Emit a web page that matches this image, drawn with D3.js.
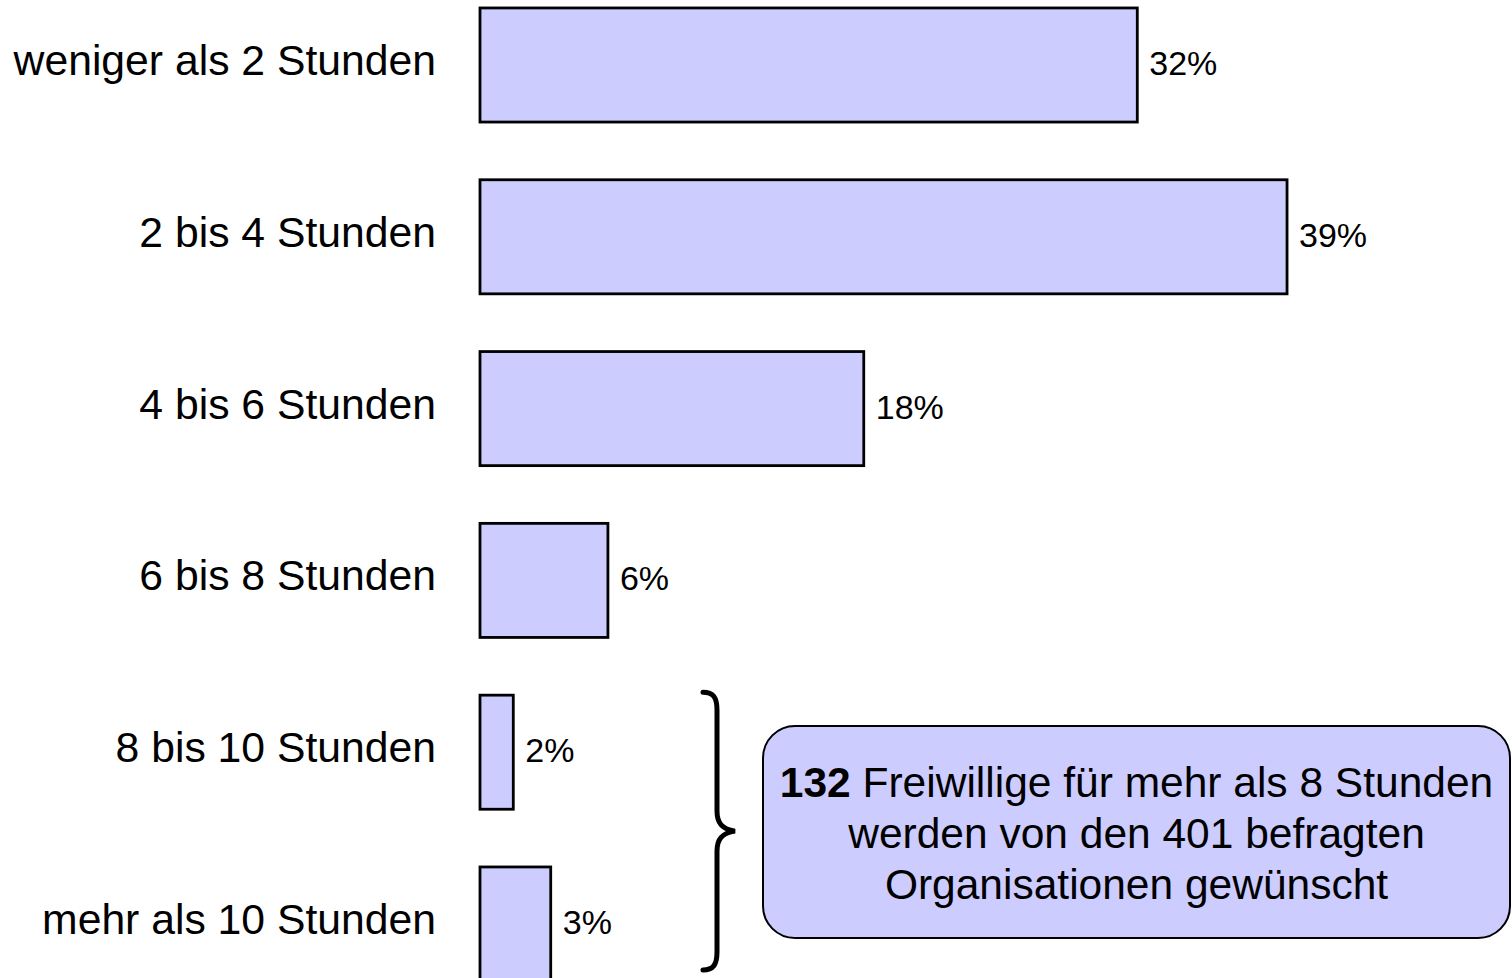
<!DOCTYPE html>
<html>
<head>
<meta charset="utf-8">
<script src="https://cdn.jsdelivr.net/npm/d3@7"></script>
<style>
  html, body { margin: 0; padding: 0; background: #fff; overflow: hidden; }
</style>
</head>
<body>
<script>
const categories = [
  "weniger als 2 Stunden",
  "2 bis 4 Stunden",
  "4 bis 6 Stunden",
  "6 bis 8 Stunden",
  "8 bis 10 Stunden",
  "mehr als 10 Stunden",
];
const shares = [31.6, 38.8, 18.45, 6.15, 1.6, 3.4];
const shareLabels = ["32%", "39%", "18%", "6%", "2%", "3%"];
const noteLines = [
  [{ text: "132", bold: true }, { text: " Freiwillige für mehr als 8 Stunden", bold: false }],
  [{ text: "werden von den 401 befragten", bold: false }],
  [{ text: "Organisationen gewünscht", bold: false }],
];

const width = 1512;
const height = 978;
const font = "'Liberation Sans', Arial, Helvetica, sans-serif";
const colors = {
  bar: "#ccccff",
  stroke: "#000000",
  text: "#000000",
  surface: "#ffffff",
};

const rows = categories.map((c, i) => ({ category: c, value: shares[i], label: shareLabels[i] }));

const svg = d3
  .select("body")
  .append("svg")
  .attr("width", width)
  .attr("height", height)
  .attr("viewBox", `0 0 ${width} ${height}`);

svg.append("rect").attr("width", width).attr("height", height).attr("fill", colors.surface);

const x = d3.scaleLinear().domain([0, 40]).range([480, 480 + 20.8 * 40]);

const y = d3
  .scaleBand()
  .domain(categories)
  .range([-20.9, 1009.9])
  .paddingInner(0.336)
  .paddingOuter(0.168);

// bars
svg
  .append("g")
  .selectAll("rect")
  .data(rows)
  .join("rect")
  .attr("x", x(0))
  .attr("y", (d) => y(d.category))
  .attr("width", (d) => x(d.value) - x(0))
  .attr("height", y.bandwidth())
  .attr("fill", colors.bar)
  .attr("stroke", colors.stroke)
  .attr("stroke-width", 2.8);

// category labels
svg
  .append("g")
  .selectAll("text")
  .data(rows)
  .join("text")
  .attr("x", 436)
  .attr("y", (d) => y(d.category) + y.bandwidth() / 2 + 10)
  .attr("text-anchor", "end")
  .attr("fill", colors.text)
  .attr("font-family", font)
  .attr("font-size", 42.7)
  .text((d) => d.category);

// value labels
svg
  .append("g")
  .selectAll("text")
  .data(rows)
  .join("text")
  .attr("x", (d) => x(d.value) + 12)
  .attr("y", (d) => y(d.category) + y.bandwidth() / 2 + 10)
  .attr("fill", colors.text)
  .attr("font-family", font)
  .attr("font-size", 34)
  .text((d) => d.label);

// brace over the last two rows
const braceTop = y(categories[4]) - 3;
const braceBottom = y(categories[5]) + y.bandwidth() - 11;
const braceMid = (braceTop + braceBottom) / 2;
const bx0 = 703, bx1 = 717, bx2 = 735;
svg
  .append("path")
  .attr(
    "d",
    `M ${bx0} ${braceTop} C ${bx0 + 10} ${braceTop}, ${bx1} ${braceTop + 5}, ${bx1} ${braceTop + 18}` +
      ` L ${bx1} ${braceMid - 20} C ${bx1} ${braceMid - 8}, ${bx1 + 5} ${braceMid - 2}, ${bx2} ${braceMid}` +
      ` C ${bx1 + 5} ${braceMid + 2}, ${bx1} ${braceMid + 8}, ${bx1} ${braceMid + 20}` +
      ` L ${bx1} ${braceBottom - 18} C ${bx1} ${braceBottom - 5}, ${bx0 + 10} ${braceBottom}, ${bx0} ${braceBottom}`
  )
  .attr("fill", "none")
  .attr("stroke", colors.stroke)
  .attr("stroke-width", 5)
  .attr("stroke-linecap", "round");

// note box
const box = { x: 763, y: 726, w: 747, h: 212 };
svg
  .append("rect")
  .attr("x", box.x)
  .attr("y", box.y)
  .attr("width", box.w)
  .attr("height", box.h)
  .attr("rx", 32)
  .attr("ry", 32)
  .attr("fill", colors.bar)
  .attr("stroke", colors.stroke)
  .attr("stroke-width", 2);

const note = svg
  .append("text")
  .attr("text-anchor", "middle")
  .attr("fill", colors.text)
  .attr("font-family", font)
  .attr("font-size", 42.5);

noteLines.forEach((line, i) => {
  const row = note
    .append("tspan")
    .attr("x", box.x + box.w / 2)
    .attr("y", 797 + i * 51);
  line.forEach((part) => {
    row
      .append("tspan")
      .attr("font-weight", part.bold ? 700 : 400)
      .text(part.text);
  });
});
</script>
</body>
</html>
